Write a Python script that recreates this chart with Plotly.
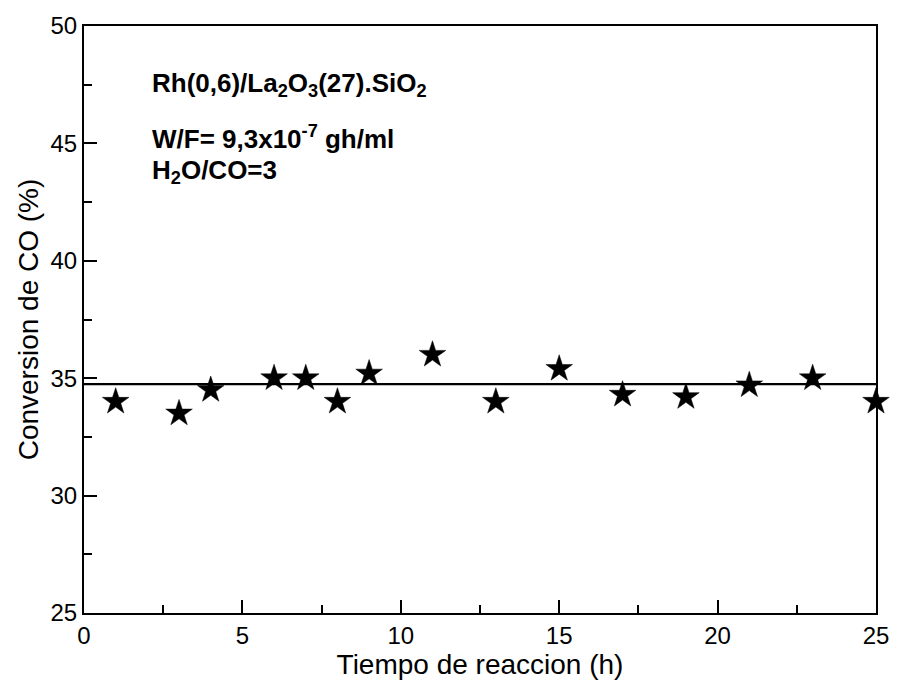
import plotly.graph_objects as go

# Reaction time (h) and CO conversion (%)
tiempo = [1, 3, 4, 6, 7, 8, 9, 11, 13, 15, 17, 19, 21, 23, 25]
conversion = [34.0, 33.5, 34.5, 35.0, 35.0, 34.0, 35.2, 36.0, 34.0, 35.4, 34.3, 34.2, 34.7, 35.0, 34.0]

# Horizontal reference level across the run
nivel_x = [0, 25]
nivel_y = [34.75, 34.75]

x_ticks = [0, 5, 10, 15, 20, 25]
y_ticks = [25, 30, 35, 40, 45, 50]

font_family = "Liberation Sans, Arial, sans-serif"

fig = go.Figure()

fig.add_trace(go.Scatter(
    x=nivel_x, y=nivel_y, mode="lines",
    line=dict(color="black", width=2.2),
    showlegend=False, hoverinfo="skip",
))

fig.add_trace(go.Scatter(
    x=tiempo, y=conversion, mode="markers",
    marker=dict(symbol="star", size=20, color="black",
                line=dict(color="black", width=0.5)),
    showlegend=False, cliponaxis=False,
))

axis_common = dict(
    showgrid=False, zeroline=False,
    showline=True, linecolor="black", linewidth=2, mirror=True,
    ticks="inside", tickcolor="black", tickwidth=1.5, ticklen=13,
    tickfont=dict(family=font_family, size=24, color="black"),
)

fig.update_xaxes(
    range=[0, 25], tickvals=x_ticks,
    minor=dict(ticks="inside", dtick=2.5, tick0=0, ticklen=8, tickwidth=1.5, tickcolor="black"),
    title=dict(text="Tiempo de reaccion (h)", font=dict(family=font_family, size=28, color="black"), standoff=0),
    **axis_common,
)
fig.update_yaxes(
    range=[25, 50], tickvals=y_ticks, ticklabelstandoff=0,
    minor=dict(ticks="inside", dtick=2.5, tick0=25, ticklen=8, tickwidth=1.5, tickcolor="black"),
    title=dict(text="Conversion de CO (%)", font=dict(family=font_family, size=28, color="black"), standoff=4),
    **axis_common,
)

ann_font = dict(family=font_family, size=26, color="black")
fig.add_annotation(
    x=0.083, y=0.90, xref="paper", yref="paper", xanchor="left", yanchor="middle",
    text="<b>Rh(0,6)/La<sub>2</sub>O<sub>3</sub>(27).SiO<sub>2</sub></b>",
    showarrow=False, font=ann_font,
)
fig.add_annotation(
    x=0.083, y=0.810, xref="paper", yref="paper", xanchor="left", yanchor="middle",
    text="<b>W/F= 9,3x10<sup>-7</sup> gh/ml</b>",
    showarrow=False, font=ann_font,
)
fig.add_annotation(
    x=0.083, y=0.752, xref="paper", yref="paper", xanchor="left", yanchor="middle",
    text="<b>H<sub>2</sub>O/CO=3</b>",
    showarrow=False, font=ann_font,
)

fig.update_layout(
    width=901, height=680,
    margin=dict(l=84, r=16, t=24, b=66),
    paper_bgcolor="white", plot_bgcolor="white",
    font=dict(family=font_family, color="black"),
)

fig.write_html("out.html")
